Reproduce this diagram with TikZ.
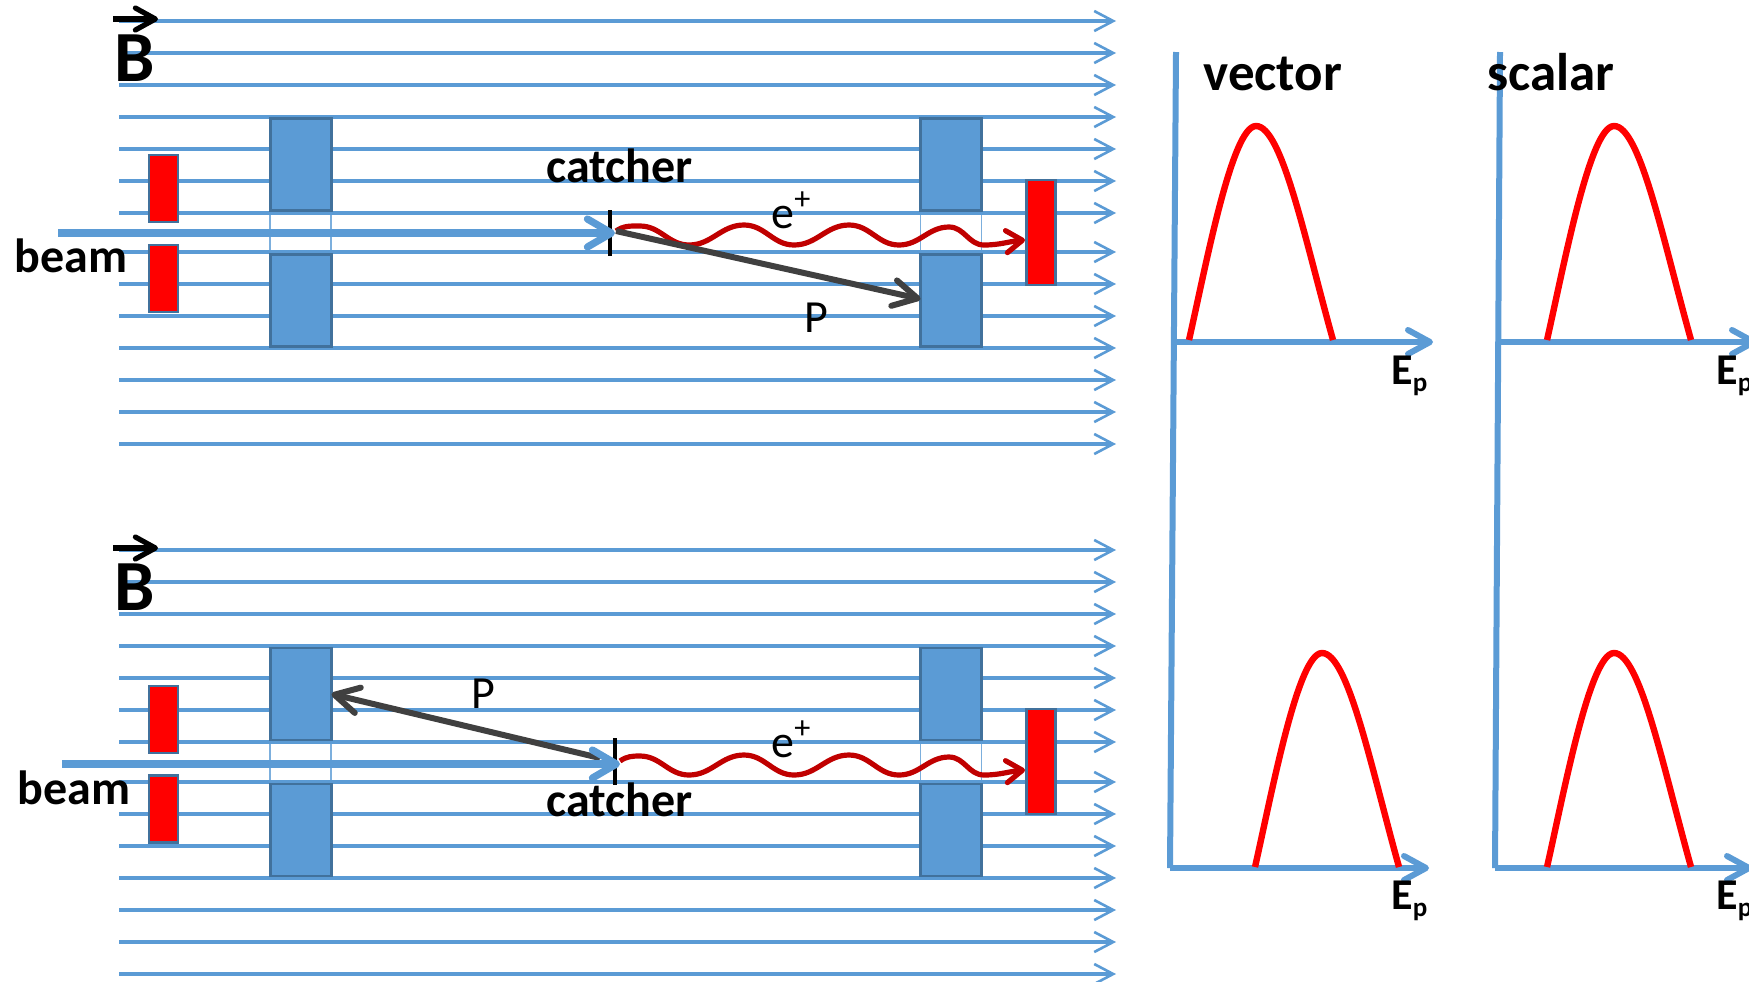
\documentclass[tikz,border=0pt]{standalone}
\usepackage{fontspec}
\setmainfont{Carlito}
\usetikzlibrary{arrows.meta, positioning}
\definecolor{fieldblue}{HTML}{5B9BD5}
\definecolor{edgeblue}{HTML}{41719C}
\definecolor{waved}{HTML}{C00000}
\definecolor{pgrey}{HTML}{404040}
\newcommand{\Epsub}{E\raisebox{-0.35ex}{\fontsize{13.5}{14}\selectfont p}}
\tikzset{
	fieldline/.style={draw=fieldblue, line width=1.6pt, -{Straight Barb[length=9.5pt,width=10pt,line width=1.3pt]}},
	gapbox/.style={draw=fieldblue!80, line width=0.6pt, fill=white, minimum width=30.5pt, minimum height=22pt, inner sep=0pt, outer sep=0pt},
	magnet/.style={draw=edgeblue, line width=1.3pt, fill=fieldblue, minimum width=30.5pt, minimum height=46pt, inner sep=0pt, outer sep=0pt},
	counter/.style={draw=edgeblue, line width=1.3pt, fill=red, minimum width=14.5pt, inner sep=0pt, outer sep=0pt},
	beamline/.style={draw=fieldblue, line width=3.6pt, -{Straight Barb[length=12pt,width=14pt,round]}},
	axisline/.style={draw=fieldblue, line width=3pt},
	axisarrow/.style={axisline, -{Straight Barb[length=11pt,width=12pt,round]}},
	ptrack/.style={draw=pgrey, line width=3pt, -{Straight Barb[length=12pt,width=13pt,round]}},
	etrack/.style={draw=waved, line width=2.6pt, -{Straight Barb[length=8pt,width=11pt,round]}},
	spectrum/.style={draw=red, line width=3.2pt},
	txtb/.style={font=\fontsize{24}{28}\selectfont\bfseries, inner sep=0pt, anchor=base west},
	txtv/.style={font=\fontsize{26.5}{30}\selectfont\bfseries, inner sep=0pt, anchor=base west},
	txte/.style={font=\fontsize{22}{26}\selectfont\bfseries, inner sep=0pt, anchor=base west},
	txtn/.style={font=\fontsize{23}{26}\selectfont, inner sep=0pt, anchor=base west},
	txtB/.style={font=\fontsize{36}{40}\selectfont\bfseries, inner sep=0pt, anchor=base west},
}

\begin{document}
\begin{tikzpicture}[x=0.5pt, y=-0.5pt, node distance=22pt and 294.5pt]
	\useasboundingbox (0,0) rectangle (1749,981);

	% gaps between the magnets
	\node [gapbox] (gapal) at (300.5,232.5) {};
	\node [gapbox] (gapar) at (951,232.5) {};
	\node [gapbox] (gapbl) at (300.5,761.5) {};
	\node [gapbox] (gapbr) at (951,761.5) {};

	% field lines
	\foreach \y in {21,53,85,117,149,181,213,252,284,316,348,380,412,444,
		550,582,614,646,678,710,742,782,814,846,878,910,942,974} {
		\coordinate (fs\y) at (119,\y);
		\coordinate (fe\y) at (1116,\y);
		\draw[fieldline] (fs\y) -- (fe\y);
	}

	% upper setup
	\node [magnet] (magatl) at (301,164.5) {};
	\node [magnet, below =of magatl] (magabl) {};
	\node [magnet, right =of magatl] (magatr) {};
	\node [magnet, right =of magabl] (magabr) {};
	\node [counter, minimum height=33.5pt] (cntat) at (163.5,188.5) {};
	\node [counter, minimum height=33.5pt] (cntab) at (163.5,278.5) {};
	\node [counter, minimum height=52.5pt] (cntar) at (1041,232.5) {};

	\coordinate (srca) at (58,233);
	\coordinate (tipa) at (615,233);
	\coordinate (tickat) at (610,210);
	\coordinate (tickab) at (610,256);
	\coordinate (wavea) at (616,231);
	\coordinate (wendea) at (1025,240);

	\draw[etrack] (wavea) to[out=35,in=180] (640,226) to[out=0,in=180] (689,245)
		to[out=0,in=180] (744,225) to[out=0,in=180] (794,245)
		to[out=0,in=180] (849,225) to[out=0,in=180] (899,245)
		to[out=0,in=180] (949,227) to[out=0,in=180] (984,245) to[out=0,in=185] (wendea);
	\draw[black, line width=2.4pt] (tickat) -- (tickab);
	\draw[ptrack] (wavea) -- (magabr.west |- 0,299);
	\draw[beamline] (srca) -- (tipa);

	% lower setup
	\node [magnet] (magbtl) at (301,694) {};
	\node [magnet, below =of magbtl] (magbbl) {};
	\node [magnet, right =of magbtl] (magbtr) {};
	\node [magnet, right =of magbbl] (magbbr) {};
	\node [counter, minimum height=33.5pt] (cntbt) at (163.5,719.5) {};
	\node [counter, minimum height=33.5pt] (cntbb) at (163.5,809) {};
	\node [counter, minimum height=52.5pt] (cntbr) at (1041,761.5) {};

	\coordinate (srcb) at (62,764);
	\coordinate (tipb) at (620,764);
	\coordinate (tickbt) at (615,738);
	\coordinate (tickbb) at (615,785);
	\coordinate (waveb) at (620,761);
	\coordinate (wendeb) at (1025,770);
	\coordinate (pstartb) at (600,758);

	\draw[etrack] (waveb) to[out=35,in=180] (640,756) to[out=0,in=180] (689,775)
		to[out=0,in=180] (744,755) to[out=0,in=180] (794,775)
		to[out=0,in=180] (849,755) to[out=0,in=180] (899,775)
		to[out=0,in=180] (949,757) to[out=0,in=180] (984,775) to[out=0,in=185] (wendeb);
	\draw[black, line width=2.4pt] (tickbt) -- (tickbb);
	\draw[ptrack] (pstartb) -- (magbtl.east |- 0,694);
	\draw[beamline] (srcb) -- (tipb);

	% labels
	\node [txtB] (bfa) at (114,81) {B};
	\node [txtB] (bfb) at (114,610) {B};
	\coordinate (bsa) at (113,19);
	\coordinate (bea) at (158,19);
	\coordinate (bsb) at (113,548);
	\coordinate (beb) at (158,548);
	\draw[black, line width=2.6pt, -{Straight Barb[length=10pt,width=11pt,round]}] (bsa) -- (bea);
	\draw[black, line width=2.6pt, -{Straight Barb[length=10pt,width=11pt,round]}] (bsb) -- (beb);

	\node [txtb] (beama) at (14,272) {beam};
	\node [txtb] (beamb) at (17,804) {beam};
	\node [txtb] (cata) at (546,182) {catcher};
	\node [txtb] (catb) at (546,816) {catcher};
	\node [txtn] (pa) at (804,332) {P};
	\node [txtn] (pb) at (471,708) {P};
	\node [txtn] (ea) at (771,228) {e\textsuperscript{+}};
	\node [txtn] (eb) at (771,757) {e\textsuperscript{+}};

	% spectra
	\coordinate (yta) at (1176,52);
	\coordinate (ybm) at (1170,868);
	\coordinate (ytb) at (1500,52);
	\coordinate (ybs) at (1495,868);
	\coordinate (xoa) at (1174,342);
	\coordinate (xea) at (1433,342);
	\coordinate (xob) at (1498,342);
	\coordinate (xeb) at (1757,342);
	\coordinate (xec) at (1429,868);
	\coordinate (xed) at (1752,868);

	\draw[axisline] (yta) -- (ybm);
	\draw[axisline] (ytb) -- (ybs);
	\draw[axisarrow] (xoa) -- (xea);
	\draw[axisarrow] (xob) -- (xeb);
	\draw[axisarrow] (ybm) -- (xec);
	\draw[axisarrow] (ybs) -- (xed);

	\foreach \px/\py in {1256/126,1614/126,1322/653,1614/653} {
		\draw[spectrum] (\px-67,\py+214) .. controls (\px-50,\py+139) and (\px-24,\py) .. (\px,\py)
			.. controls (\px+26,\py) and (\px+49,\py+114) .. (\px+77,\py+214);
	}

	\node [txtv] (veclab) at (1203,90) {vector};
	\node [txtv] (scalab) at (1487,90) {scalar};
	\node [txte] (epa) at (1391,384) {\Epsub};
	\node [txte] (epb) at (1716,384) {\Epsub};
	\node [txte] (epc) at (1391,909) {\Epsub};
	\node [txte] (epd) at (1716,909) {\Epsub};
\end{tikzpicture}
\end{document}
